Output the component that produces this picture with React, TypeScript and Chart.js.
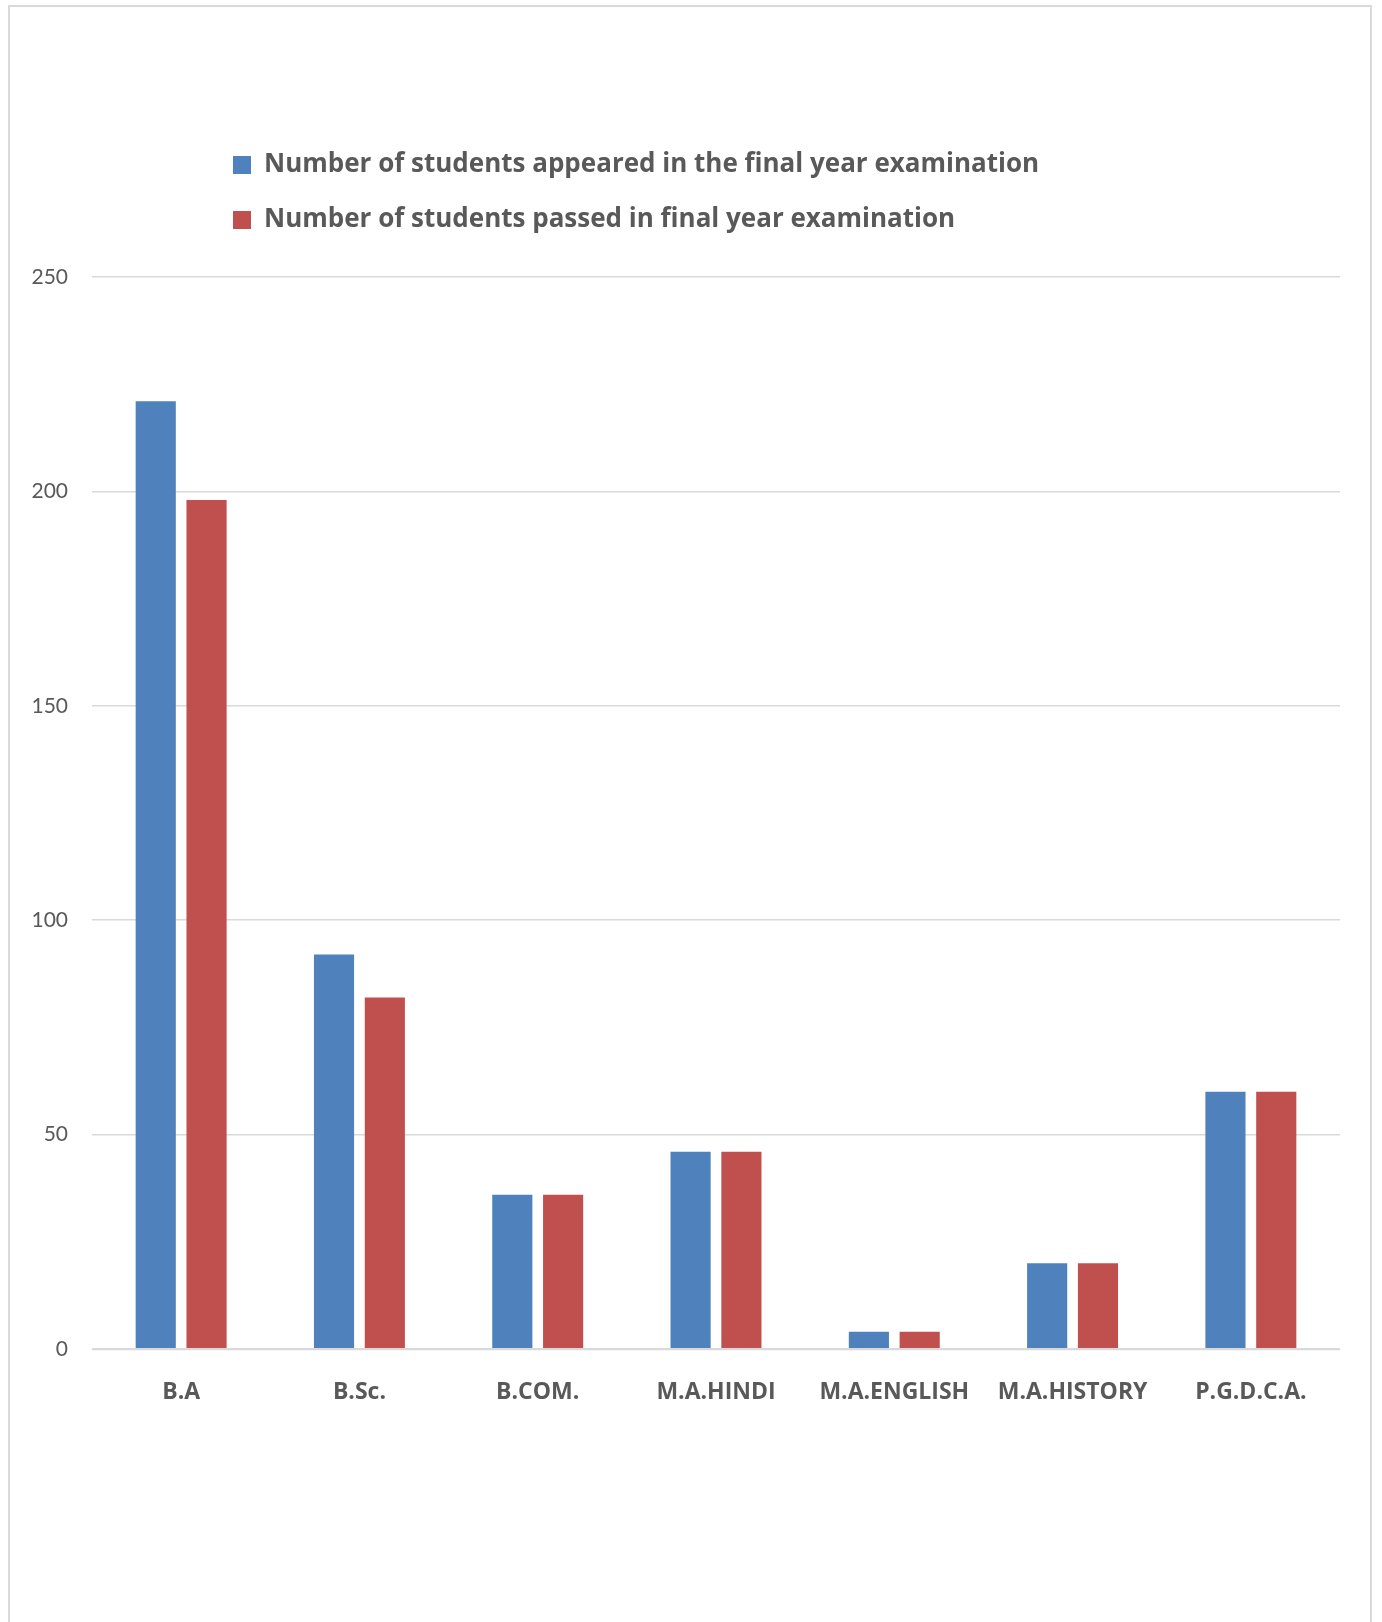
import React, { useEffect, useRef } from "react";
import { Chart, registerables } from "chart.js";

Chart.register(...registerables);

const categories = ["B.A", "B.Sc.", "B.COM.", "M.A.HINDI", "M.A.ENGLISH", "M.A.HISTORY", "P.G.D.C.A."];
const appeared = [221, 92, 36, 46, 4, 20, 60];
const passed = [198, 82, 36, 46, 4, 20, 60];
const seriesNames = [
  "Number of students appeared in the final year examination",
  "Number of students passed in final year examination",
];
const yTicks = [0, 50, 100, 150, 200, 250];

const BOLD_FONT = "'Open Sans', 'Noto Sans', sans-serif";
const TICK_FONT = "Lato, 'Open Sans', sans-serif";
const TEXT = "#595959";
const GRID = "#d9d9d9";

const LEG_SIZE = 26;
const LEG_PAD = 55 - LEG_SIZE;

const legendShift = {
  id: "legendShift",
  afterLayout(chart: any) {
    const l = chart.legend;
    if (!l) return;
    const dx = 233 - LEG_PAD - l.left;
    const dy = 165 - LEG_PAD - LEG_SIZE / 2 - l.top;
    l.left += dx;
    l.right += dx;
    l.top += dy;
    l.bottom += dy;
  },
};

export default function App() {
  const ref = useRef<HTMLCanvasElement | null>(null);

  useEffect(() => {
    if (!ref.current) return;
    const chart = new Chart(ref.current, {
      type: "bar",
      data: {
        labels: categories,
        datasets: [
          {
            label: seriesNames[0],
            data: appeared,
            backgroundColor: "#4F81BD",
            categoryPercentage: 0.57,
            barPercentage: 0.79,
          },
          {
            label: seriesNames[1],
            data: passed,
            backgroundColor: "#C0504D",
            categoryPercentage: 0.57,
            barPercentage: 0.79,
          },
        ],
      },
      plugins: [legendShift],
      options: {
        animation: false,
        responsive: true,
        maintainAspectRatio: false,
        layout: { padding: { left: 32, right: 42, top: 157, bottom: 213 } },
        plugins: {
          tooltip: { enabled: false },
          title: { display: false },
          legend: {
            display: true,
            position: "top",
            align: "start",
            labels: {
              boxWidth: 18,
              boxHeight: 18,
              padding: LEG_PAD,
              color: TEXT,
              font: { family: BOLD_FONT, size: LEG_SIZE, weight: "bold" },
            },
          },
        },
        scales: {
          x: {
            grid: { display: false, drawTicks: false },
            border: { display: false },
            ticks: {
              color: TEXT,
              padding: 30,
              font: { family: BOLD_FONT, size: 23, weight: "bold" },
            },
            afterFit(scale: any) {
              scale.height = 60;
            },
          },
          y: {
            min: 0,
            max: 250,
            afterBuildTicks(scale: any) {
              scale.ticks = yTicks.map((v) => ({ value: v }));
            },
            grid: {
              color: GRID,
              lineWidth: (ctx: any) => (ctx.tick && ctx.tick.value === 0 ? 2.2 : 1.5),
              drawTicks: false,
            },
            border: { display: false },
            ticks: {
              color: TEXT,
              padding: 24,
              font: { family: TICK_FONT, size: 21 },
            },
            afterFit(scale: any) {
              scale.width = 60;
            },
          },
        },
      },
    });
    return () => chart.destroy();
  }, []);

  return (
    <div style={{ position: "absolute", left: 0, top: 0, width: 1382, height: 1622, background: "#fff", overflow: "hidden" }}>
      <div
        style={{
          position: "absolute",
          left: 8,
          top: 5,
          width: 1360,
          height: 1630,
          border: `2.5px solid ${GRID}`,
          boxSizing: "content-box",
        }}
      />
      <div style={{ position: "absolute", left: 0, top: 0, width: 1382, height: 1622 }}>
        <canvas ref={ref} />
      </div>
    </div>
  );
}
